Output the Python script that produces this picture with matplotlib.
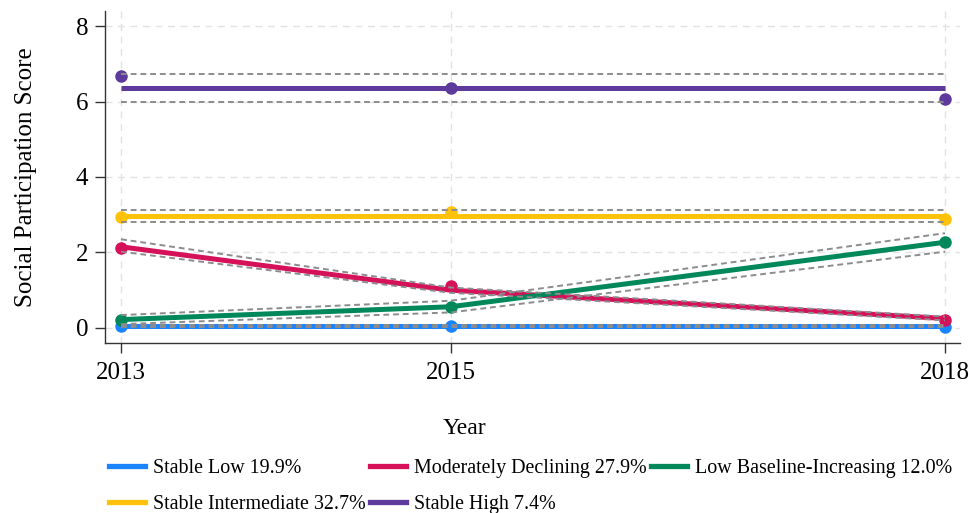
import numpy as np
import matplotlib.pyplot as plt
from matplotlib.lines import Line2D

plt.rcParams['font.family'] = ['Liberation Serif', 'DejaVu Serif']

# survey waves
years = [2013, 2015, 2018]

# trajectory groups (label, colour)
groups = ["Stable Low 19.9%", "Moderately Declining 27.9%", "Low Baseline-Increasing 12.0%",
          "Stable Intermediate 32.7%", "Stable High 7.4%"]
colors = ["#1A85FF", "#D41159", "#00875A", "#FFC20A", "#5D3A9B"]

# observed group means
obs_low = [0.04, 0.05, 0.02]
obs_decl = [2.11, 1.12, 0.21]
obs_incr = [0.21, 0.56, 2.27]
obs_mid = [2.93, 3.08, 2.89]
obs_high = [6.68, 6.36, 6.06]

# fitted trajectories
fit_low = [0.05, 0.05, 0.05]
fit_decl = [2.15, 1.00, 0.25]
fit_incr = [0.22, 0.56, 2.27]
fit_mid = [2.97, 2.97, 2.97]
fit_high = [6.36, 6.36, 6.36]

# 95% confidence bounds of the fitted trajectories
lo_low = [0.02, 0.02, 0.02]
hi_low = [0.08, 0.08, 0.08]
lo_decl = [2.02, 0.93, 0.20]
hi_decl = [2.35, 1.07, 0.30]
lo_incr = [0.10, 0.41, 2.02]
hi_incr = [0.34, 0.72, 2.51]
lo_mid = [2.80, 2.80, 2.80]
hi_mid = [3.13, 3.13, 3.13]
lo_high = [6.00, 6.00, 6.00]
hi_high = [6.74, 6.74, 6.74]

observed = [obs_low, obs_decl, obs_incr, obs_mid, obs_high]
fitted = [fit_low, fit_decl, fit_incr, fit_mid, fit_high]
lower = [lo_low, lo_decl, lo_incr, lo_mid, lo_high]
upper = [hi_low, hi_decl, hi_incr, hi_mid, hi_high]

#########################################################
                # Plot
#########################################################

fig = plt.figure(figsize=(9.69, 5.13), dpi=100)
ax = fig.add_axes([0.1084, 0.3314, 0.8823, 0.6472])

# fitted lines and observed means
for obs, fit, col in zip(observed, fitted, colors):
    ax.plot(years, fit, color=col, lw=3.6, solid_capstyle="butt", zorder=3)
    ax.plot(years, obs, "o", color=col, ms=8, zorder=4)

# confidence bounds drawn on top
for lo, hi in zip(lower, upper):
    ax.plot(years, lo, color="#8c8c8c", lw=1.4, dashes=(3, 2), zorder=5)
    ax.plot(years, hi, color="#8c8c8c", lw=1.4, dashes=(3, 2), zorder=5)

ax.set_xlim(2012.903, 2018.091)
ax.set_ylim(-0.40, 8.40)
ax.set_xticks(years)
ax.set_yticks([0, 2, 4, 6, 8])
ax.grid(True, color="#e2e2e2", lw=1, dashes=(5, 4))
ax.set_axisbelow(True)

for side in ["top", "right"]:
    ax.spines[side].set_visible(False)
for side in ["left", "bottom"]:
    ax.spines[side].set_color("#333333")
    ax.spines[side].set_linewidth(1.0)

ax.tick_params(axis="both", direction="out", length=7, width=1, color="#333333",
               labelsize=18, pad=5)
ax.tick_params(axis="x", pad=7)

ax.set_ylabel("Social Participation Score", fontsize=18)
ax.yaxis.set_label_coords(-0.079, 0.5)
ax.set_xlabel("Year", fontsize=17, va="top")
ax.xaxis.set_label_coords(0.421, -0.225)

# legend below the plot, filled row by row
order = [0, 3, 1, 4, 2]
handles = [Line2D([], [], color=colors[i], lw=3.8) for i in order]
labels = [groups[i] for i in order]
fig.legend(handles, labels, loc="upper left", bbox_to_anchor=(0.113, 0.105),
           ncol=3, frameon=False, fontsize=14.4, handlelength=1.8,
           handletextpad=0.4, columnspacing=0.2, labelspacing=0.85,
           borderpad=0, borderaxespad=0)

plt.savefig("out.png", dpi=100)
